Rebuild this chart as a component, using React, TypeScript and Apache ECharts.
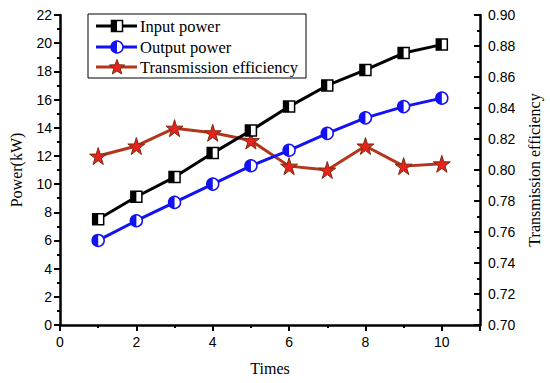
import React, { useEffect, useRef } from 'react';
import * as echarts from 'echarts';

const times = [1, 2, 3, 4, 5, 6, 7, 8, 9, 10];
const inputPower = [7.5, 9.1, 10.5, 12.2, 13.8, 15.5, 17.0, 18.1, 19.3, 19.9];
const outputPower = [6.0, 7.4, 8.7, 10.0, 11.3, 12.4, 13.6, 14.7, 15.5, 16.1];
const efficiency = [0.809, 0.8155, 0.827, 0.824, 0.819, 0.8025, 0.8, 0.8155, 0.8025, 0.804];
const seriesNames = ['Input power', 'Output power', 'Transmission efficiency'];
const axisNames = { x: 'Times', yLeft: 'Power(kW)', yRight: 'Transmission efficiency' };

const STAR = 'path://M50,0 L61,35 L98,35 L68,57 L79,91 L50,70 L21,91 L32,57 L2,35 L39,35 Z';
const HALF_CIRCLE = 'path://M10,0 A10,10 0 0,0 10,20 Z';

const BLACK = '#000000';
const BLUE = '#1212f2';
const RED_LINE = '#b3361c';
const STAR_FILL = '#e8231c';
const STAR_EDGE = '#7a2a10';

function starPoints(cx: number, cy: number, R: number, r: number) {
  const pts: number[][] = [];
  for (let i = 0; i < 10; i++) {
    const rad = i % 2 === 0 ? R : r;
    const a = -Math.PI / 2 + (i * Math.PI) / 5;
    pts.push([cx + rad * Math.cos(a), cy + rad * Math.sin(a)]);
  }
  return pts;
}

export default function App() {
  const ref = useRef<HTMLDivElement>(null);
  useEffect(() => {
    document.body.style.margin = '0';
    if (!ref.current) return;
    const chart = echarts.init(ref.current, undefined, { renderer: 'svg' });
    const pairs = (ys: number[]) => times.map((t, i) => [t, ys[i]]);
    const sans = 'Liberation Sans, Arial, sans-serif';
    const serif = 'Liberation Serif, Times New Roman, serif';

    const lx0 = 96, lx1 = 137, mx = 117, tx = 140;
    const rows = [26, 47, 67];
    const legendFont = `16.5px ${serif}`;
    const legendChildren: any[] = [
      { type: 'rect', shape: { x: 88, y: 14, width: 218, height: 64 }, style: { fill: '#fff', stroke: '#000', lineWidth: 1 } },
      { type: 'line', shape: { x1: lx0, y1: rows[0], x2: lx1, y2: rows[0] }, style: { stroke: BLACK, lineWidth: 3 } },
      { type: 'rect', shape: { x: mx - 5.5, y: rows[0] - 5.5, width: 11, height: 11 }, style: { fill: '#fff', stroke: BLACK, lineWidth: 1.5 } },
      { type: 'rect', shape: { x: mx - 5.5, y: rows[0] - 5.5, width: 5.5, height: 11 }, style: { fill: BLACK } },
      { type: 'text', x: tx, y: rows[0], style: { text: seriesNames[0], font: legendFont, fill: '#000', verticalAlign: 'middle' } },
      { type: 'line', shape: { x1: lx0, y1: rows[1], x2: lx1, y2: rows[1] }, style: { stroke: BLUE, lineWidth: 3 } },
      { type: 'circle', shape: { cx: mx, cy: rows[1], r: 6 }, style: { fill: '#fff', stroke: BLUE, lineWidth: 1.5 } },
      { type: 'sector', shape: { cx: mx, cy: rows[1], r0: 0, r: 6, startAngle: Math.PI / 2, endAngle: (3 * Math.PI) / 2 }, style: { fill: BLUE } },
      { type: 'text', x: tx, y: rows[1], style: { text: seriesNames[1], font: legendFont, fill: '#000', verticalAlign: 'middle' } },
      { type: 'line', shape: { x1: lx0, y1: rows[2], x2: lx1, y2: rows[2] }, style: { stroke: RED_LINE, lineWidth: 3 } },
      { type: 'polygon', shape: { points: starPoints(mx, rows[2] + 0.5, 8, 3.4) }, style: { fill: STAR_FILL, stroke: STAR_EDGE, lineWidth: 1 } },
      { type: 'text', x: tx, y: rows[2], style: { text: seriesNames[2], font: legendFont, fill: '#000', verticalAlign: 'middle' } },
    ];

    const axisLineStyle = { color: '#000', width: 2.5 };

    chart.setOption({
      animation: false,
      backgroundColor: '#ffffff',
      grid: { left: 60, right: 70, top: 15, bottom: 58, outerBoundsMode: 'none', containLabel: false },
      xAxis: {
        type: 'value', min: 0, max: 11, interval: 2,
        name: axisNames.x, nameLocation: 'middle', nameGap: 35,
        nameTextStyle: { fontFamily: serif, fontSize: 16, color: '#000' },
        axisLine: { show: true, lineStyle: axisLineStyle },
        axisTick: { show: true, length: 6, lineStyle: { color: '#000', width: 2 } },
        minorTick: { show: true, splitNumber: 2, length: 3, lineStyle: { color: '#000', width: 2 } },
        axisLabel: { fontFamily: sans, fontSize: 14, color: '#000', margin: 10, showMaxLabel: false },
        splitLine: { show: false },
      },
      yAxis: [
        {
          type: 'value', min: 0, max: 22, interval: 2, position: 'left',
          name: axisNames.yLeft, nameLocation: 'middle', nameGap: 36, nameRotate: 90,
          nameTextStyle: { fontFamily: serif, fontSize: 16, color: '#000' },
          axisLine: { show: true, lineStyle: axisLineStyle },
          axisTick: { show: true, length: 6, lineStyle: { color: '#000', width: 2 } },
          minorTick: { show: true, splitNumber: 2, length: 3, lineStyle: { color: '#000', width: 2 } },
          axisLabel: { fontFamily: sans, fontSize: 14, color: '#000', margin: 8 },
          splitLine: { show: false },
        },
        {
          type: 'value', min: 0.7, max: 0.9, interval: 0.02, position: 'right',
          name: axisNames.yRight, nameLocation: 'middle', nameGap: 43, nameRotate: 90,
          nameTextStyle: { fontFamily: serif, fontSize: 16, color: '#000' },
          axisLine: { show: true, lineStyle: axisLineStyle },
          axisTick: { show: true, inside: true, length: 6, lineStyle: { color: '#000', width: 2 } },
          minorTick: { show: true, splitNumber: 2, length: 3, lineStyle: { color: '#000', width: 2 } },
          axisLabel: { fontFamily: sans, fontSize: 14, color: '#000', margin: 8, formatter: (v: number) => v.toFixed(2) },
          splitLine: { show: false },
        },
      ],
      series: [
        {
          name: seriesNames[2], type: 'line', yAxisIndex: 1, data: pairs(efficiency), z: 2,
          symbol: STAR, symbolSize: 17,
          lineStyle: { color: RED_LINE, width: 3 },
          itemStyle: { color: STAR_FILL, borderColor: STAR_EDGE, borderWidth: 1 },
        },
        {
          name: seriesNames[0], type: 'line', data: pairs(inputPower), z: 3,
          symbol: 'rect', symbolSize: 11,
          lineStyle: { color: BLACK, width: 3 },
          itemStyle: { color: '#fff', borderColor: BLACK, borderWidth: 1.5 },
        },
        {
          name: seriesNames[0] + ' half', type: 'scatter', data: pairs(inputPower), z: 4,
          symbol: 'rect', symbolSize: [5.5, 11], symbolOffset: [-2.75, 0],
          itemStyle: { color: BLACK, opacity: 1 },
        },
        {
          name: seriesNames[1], type: 'line', data: pairs(outputPower), z: 5,
          symbol: 'circle', symbolSize: 12,
          lineStyle: { color: BLUE, width: 3 },
          itemStyle: { color: '#fff', borderColor: BLUE, borderWidth: 1.5 },
        },
        {
          name: seriesNames[1] + ' half', type: 'scatter', data: pairs(outputPower), z: 6,
          symbol: HALF_CIRCLE, symbolSize: [6, 12], symbolOffset: [-3, 0],
          itemStyle: { color: BLUE, opacity: 1 },
        },
      ],
      graphic: [{ type: 'group', children: legendChildren }],
    });
    return () => chart.dispose();
  }, []);
  return <div ref={ref} style={{ width: 550, height: 383 }} />;
}
